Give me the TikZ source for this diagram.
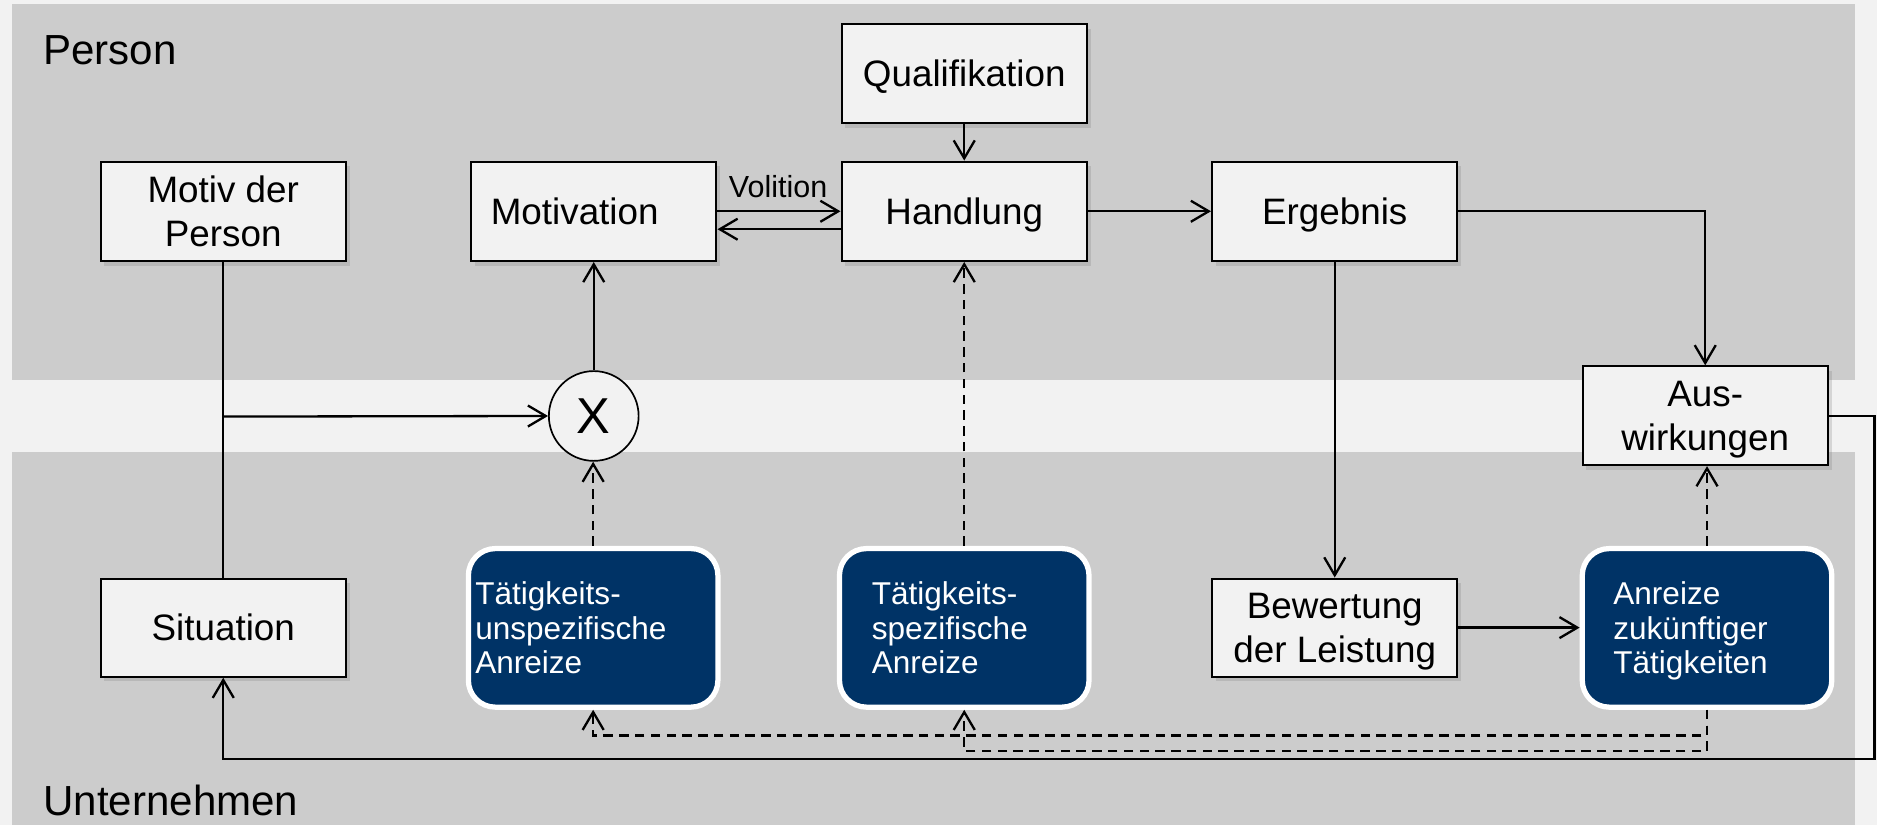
\documentclass[tikz,border=0pt]{standalone}
\usepackage{fontspec}
\setmainfont{Liberation Sans}
\usetikzlibrary{arrows.meta,shadows}
\definecolor{bgc}{HTML}{F2F2F2}
\definecolor{panelc}{HTML}{CCCCCC}
\definecolor{boxc}{HTML}{F2F2F2}
\definecolor{navy}{HTML}{003366}
\begin{document}
\begin{tikzpicture}[x=0.02cm,y=-0.02cm,
  >={Straight Barb[length=8.5pt,width=10pt]},
  conn/.style={line width=1.1pt},
  dashline/.style={line width=1.1pt,dash pattern=on 4.5pt off 3pt},
  graybox/.style={draw=black,fill=boxc,line width=1pt,minimum width=4.1cm,minimum height=1.66cm,
    inner sep=0pt,align=center,text depth=0pt,font=\fontsize{17.5}{21}\selectfont,
    drop shadow={shadow xshift=1.8pt,shadow yshift=-2.2pt,opacity=0.25}},
  bluebox/.style={draw=white,fill=navy,line width=2.5pt,rounded corners=0.45cm,
    minimum width=4.17cm,minimum height=2.65cm,inner ysep=0pt,text depth=33pt,text=white,align=left,
    font=\fontsize{15}{16.5}\selectfont},
  paneltext/.style={font=\fontsize{20}{24}\selectfont,anchor=base west,inner sep=0pt}
]
\useasboundingbox (0,0) rectangle (1568,689);
\fill[bgc] (0,0) rectangle (1568,689);
\fill[panelc] (10.4,3.3) rectangle (1549.5,317.5);
\fill[panelc] (10.4,378) rectangle (1549.5,689);
\node[paneltext] (lperson) at (36,54.3) {Person};
\node[paneltext] (lunter) at (36,681) {Unternehmen};

% gray boxes
\node[graybox] (qual) at (805.5,61.5) {Qualifikation};
\node[graybox] (motiv) at (186.5,176.5) {Motiv der\\Person};
\node[graybox,inner xsep=0.33cm,text width=3.44cm,align=left] (motivation) at (496,176.5) {Motivation};
\node[graybox] (handlung) at (805.5,176.5) {Handlung};
\node[graybox] (ergebnis) at (1115,176.5) {Ergebnis};
\node[graybox,minimum height=1.65cm] (aus) at (1424.5,347.3) {Aus-\\wirkungen};
\node[graybox,minimum height=1.64cm] (situation) at (186.5,524.3) {Situation};
\node[graybox,minimum height=1.64cm] (bewertung) at (1115,524.3) {Bewertung\\der Leistung};

% multiplication circle
\node[circle,draw=black,fill=boxc,line width=0.8pt,minimum size=1.5cm,inner sep=0pt,text depth=0pt,
  font=\fontsize{24}{28}\selectfont] (X) at (496,347.5) {X};

% blue boxes
\node[bluebox,inner xsep=0.115cm,text width=3.94cm] (unspez) at (495.5,524.5)
  {Tätigkeits-\\unspezifische\\Anreize};
\node[bluebox,inner xsep=0.54cm,text width=3.09cm] (spez) at (805.5,524.5)
  {Tätigkeits-\\spezifische\\Anreize};
\node[bluebox,inner xsep=0.52cm,text width=3.13cm] (zuk) at (1426,524.5)
  {Anreize\\zukünftiger\\Tätigkeiten};

% solid connectors
\coordinate (branch) at (186.5,348);
\draw[conn] (motiv.south) -- (situation.north);
\draw[conn,->] (branch) -- (X.west);
\draw[conn,->] (X.north) -- (X.north |- motivation.south);
\draw[conn,->] (motivation.east) -- (handlung.west);
\draw[conn,->] ([yshift=-0.3cm]handlung.west) -- ([yshift=-0.3cm]motivation.east);
\node[font=\fontsize{14.5}{17}\selectfont,anchor=base,inner sep=0pt] (vol) at (650,165) {Volition};
\draw[conn,->] (qual.south) -- (handlung.north);
\draw[conn,->] (handlung.east) -- (ergebnis.west);
\draw[conn,->] (ergebnis.east) -| (aus.north);
\draw[conn,->] (ergebnis.south) -- (bewertung.north);
\draw[conn,->] (bewertung.east) -- (bewertung.east -| zuk.west);
\coordinate (fbcorner) at (1566,634);
\draw[conn,->] (aus.east) -| (fbcorner) -| (situation.south);

% dashed connectors
\draw[dashline,->] (zuk.north) -- (zuk.north |- aus.south);
\draw[dashline,->] (unspez.north) -- (unspez.north |- X.south);
\draw[dashline,->] (spez.north) -- (handlung.south);
\coordinate (dA) at (495.5,614.5);
\coordinate (dB) at (805.5,627.5);
\draw[dashline,->] (zuk.south) |- (dA) -- (unspez.south);
\draw[dashline,->] (zuk.south) |- (dB) -- (spez.south);
\end{tikzpicture}
\end{document}
